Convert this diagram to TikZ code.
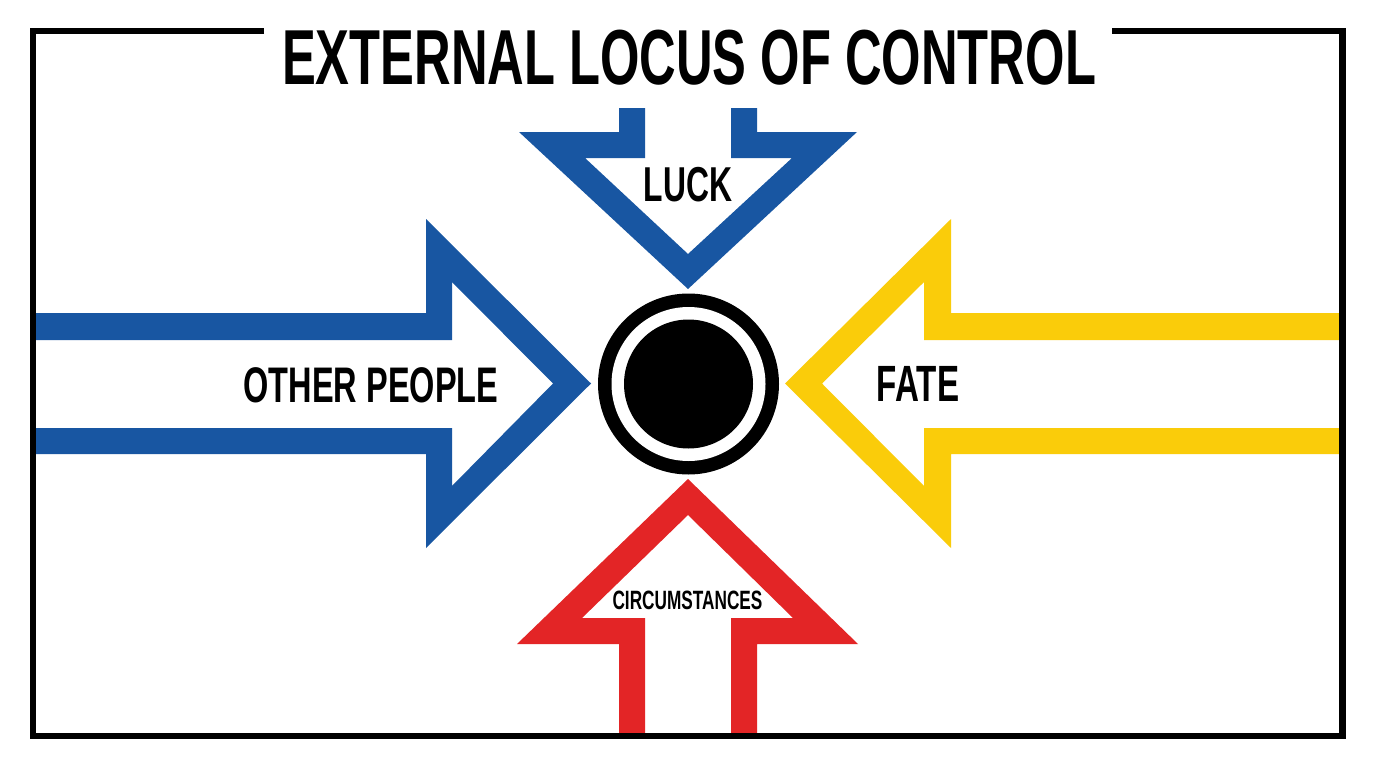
\documentclass[tikz,border=0pt]{standalone}
\usepackage{fontspec}
\newfontfamily\condfont{Liberation Sans}[FakeStretch=0.65]
\definecolor{locusblue}{RGB}{24,86,162}
\definecolor{locusyellow}{RGB}{250,204,10}
\definecolor{locusred}{RGB}{227,37,38}
\begin{document}
\begin{tikzpicture}[x=1pt, y=-1pt,
    band/.style={fill=#1},
    word/.style={inner sep=0pt, font=\condfont\bfseries\fontsize{#1}{#1}\selectfont}]
  \useasboundingbox[fill=white] (0,0) rectangle (1376,768);
  % arrows, drawn as outlined bands
  \fill[band=locusblue] (619,108) -- (619,132) -- (519,132) -- (688,289) -- (857,132) -- (757,132) -- (757,108) -- (731,108) -- (731,158) -- (792,158) -- (688,254) -- (585,158) -- (645,158) -- (645,108) -- cycle;
  \fill[band=locusred] (619,736) -- (619,644) -- (517,644) -- (688,479) -- (858,644) -- (757,644) -- (757,736) -- (731,736) -- (731,618) -- (793,618) -- (688,515) -- (582,618) -- (645,618) -- (645,736) -- cycle;
  \fill[band=locusblue] (33,313) -- (426,313) -- (426,219) -- (591,383.5) -- (426,548) -- (426,454) -- (33,454) -- (33,428) -- (452,428) -- (452,486) -- (553,383.5) -- (452,282) -- (452,340) -- (33,340) -- cycle;
  \fill[band=locusyellow] (1342,313) -- (951,313) -- (951,219) -- (785,383.5) -- (951,548) -- (951,454) -- (1342,454) -- (1342,428) -- (924,428) -- (924,486) -- (822,383.5) -- (924,282) -- (924,340) -- (1342,340) -- cycle;
  % frame, open at the title
  \draw[line width=6.5pt, miter limit=4] (264,30.8) -- (33,30.8) -- (33,736) -- (1342.5,736) -- (1342.5,30.8) -- (1112,30.8);
  % target in the middle
  \fill (688.5,384) circle (90.5);
  \fill[white] (688.5,384) circle (77);
  \fill (688.5,384) circle (64.5);
  \node[word=78] (title) at (689,58) {EXTERNAL LOCUS OF CONTROL};
  \node[word=49] (luck) at (688,184.5) {LUCK};
  \node[word=50] (people) at (371,385) {OTHER PEOPLE};
  \node[word=51] (fate) at (918,384) {FATE};
  \node[word=26.5] (circ) at (687.5,600.5) {CIRCUMSTANCES};
\end{tikzpicture}
\end{document}
